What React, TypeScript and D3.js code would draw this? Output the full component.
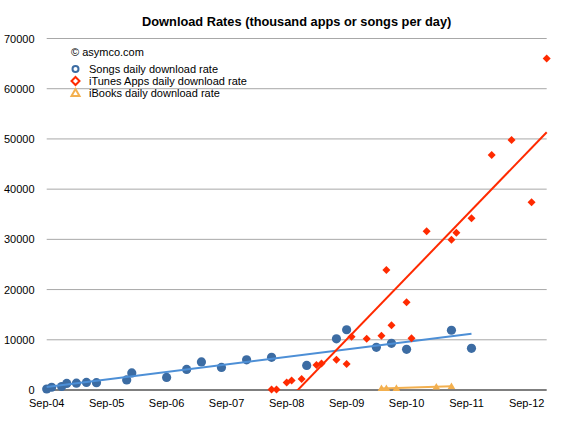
import React from "react";
import * as d3 from "d3";

const title = "Download Rates (thousand apps or songs per day)";
const yTicks = [0, 10000, 20000, 30000, 40000, 50000, 60000, 70000];
const xTickLabels = ["Sep-04", "Sep-05", "Sep-06", "Sep-07", "Sep-08", "Sep-09", "Sep-10", "Sep-11", "Sep-12"];
const xTickDates = ["2004-09", "2005-09", "2006-09", "2007-09", "2008-09", "2009-09", "2010-09", "2011-09", "2012-09"];

const songDates = ["2004-09", "2004-10", "2004-12", "2005-01", "2005-03", "2005-05", "2005-07", "2006-01", "2006-02", "2006-09", "2007-01", "2007-04", "2007-08", "2008-01", "2008-06", "2009-01", "2009-07", "2009-09", "2010-03", "2010-06", "2010-09", "2011-06", "2011-10"];
const songValues = [200, 550, 700, 1300, 1350, 1500, 1450, 2000, 3400, 2500, 4100, 5600, 4500, 6000, 6500, 4900, 10200, 12000, 8500, 9300, 8100, 11900, 8300];

const appDates = ["2008-06", "2008-07", "2008-09", "2008-10", "2008-12", "2009-03", "2009-04", "2009-07", "2009-09", "2009-10", "2010-01", "2010-04", "2010-05", "2010-06", "2010-09", "2010-10", "2011-01", "2011-06", "2011-07", "2011-10", "2012-02", "2012-06", "2012-10", "2013-01"];
const appValues = [100, 100, 1500, 1900, 2200, 5000, 5300, 6000, 5200, 10600, 10200, 10800, 23900, 12900, 17500, 10300, 31600, 29900, 31300, 34200, 46800, 49800, 37400, 66000];

const bookDates = ["2010-04", "2010-05", "2010-07", "2011-03", "2011-06"];
const bookValues = [350, 350, 380, 650, 750];

const legendLabels = ["Songs daily download rate", "iTunes Apps daily download rate", "iBooks daily download rate"];
const credit = "© asymco.com";

const parse = d3.timeParse("%Y-%m");

const W = 564, H = 437;
const left = 46.7, right = 546.7, top = 38.5, bottom = 390;

const x = d3.scaleTime().domain([parse("2004-09")!, parse("2013-01")!]).range([left, right]);
const y = d3.scaleLinear().domain([0, 70000]).range([bottom, top]);

function fit(dates: string[], vals: number[]) {
  const xs = dates.map((d) => +parse(d)!);
  const n = xs.length;
  const mx = d3.mean(xs)!, my = d3.mean(vals)!;
  let num = 0, den = 0;
  for (let i = 0; i < n; i++) {
    num += (xs[i] - mx) * (vals[i] - my);
    den += (xs[i] - mx) * (xs[i] - mx);
  }
  const b = num / den, a = my - b * mx;
  const x0 = d3.min(xs)!, x1 = d3.max(xs)!;
  return [
    [x0, a + b * x0],
    [x1, a + b * x1],
  ];
}

const line = d3
  .line<number[]>()
  .x((d) => x(new Date(d[0])))
  .y((d) => y(d[1]));

const FONT = "'Liberation Sans', Arial, Helvetica, sans-serif";
const BLUE = "#3c6ca3";
const BLUE_LINE = "#4d8fd6";
const RED = "#ff2a00";
const ORANGE = "#f3b04f";

function diamond(cx: number, cy: number, r: number) {
  return `M${cx},${cy - r}L${cx + r},${cy}L${cx},${cy + r}L${cx - r},${cy}Z`;
}
function triangle(cx: number, cy: number, r: number) {
  return `M${cx},${cy - r}L${cx + r},${cy + r * 0.75}L${cx - r},${cy + r * 0.75}Z`;
}

export default function App() {
  const songFit = fit(songDates, songValues);
  const appFit = fit(appDates, appValues);
  const bookFit = fit(bookDates, bookValues);
  return (
    <svg width={W} height={H} style={{ position: "absolute", left: 0, top: 0, background: "#fff" }} fontFamily={FONT}>
      <defs>
        <clipPath id="plot">
          <rect x={left - 10} y={top - 5} width={right - left + 20} height={bottom - top + 5} />
        </clipPath>
      </defs>
      <rect width={W} height={H} fill="#fff" />
      <text x={(left + right) / 2} y={25.5} textAnchor="middle" fontSize={12.8} fontWeight="bold" fill="#000">
        {title}
      </text>
      {yTicks.map((t) => (
        <g key={t}>
          <line
            x1={left}
            x2={right}
            y1={y(t)}
            y2={y(t)}
            stroke={t === 0 ? "#000" : "#a8a8a8"}
            strokeWidth={t === 0 ? 1.2 : 1}
          />
          <text x={34.5} y={y(t) + 4} textAnchor="end" fontSize={11} fill="#000">
            {t}
          </text>
        </g>
      ))}
      {xTickDates.map((d, i) => (
        <text key={d} x={x(parse(d)!)} y={406.5} textAnchor="middle" fontSize={11} fill="#000">
          {xTickLabels[i]}
        </text>
      ))}
      {songDates.map((d, i) => (
        <circle key={"s" + i} cx={x(parse(d)!)} cy={y(songValues[i])} r={4.6} fill={BLUE} />
      ))}
      <path d={line(songFit as any)!} fill="none" stroke={BLUE_LINE} strokeWidth={2} clipPath="url(#plot)" />
      {appDates.map((d, i) => (
        <path key={"a" + i} d={diamond(x(parse(d)!), y(appValues[i]), 4)} fill={RED} />
      ))}
      <path d={line(appFit as any)!} fill="none" stroke={RED} strokeWidth={2} clipPath="url(#plot)" />
      {bookDates.map((d, i) => (
        <path key={"b" + i} d={triangle(x(parse(d)!), y(bookValues[i]), 3.8)} fill={ORANGE} />
      ))}
      <path d={line(bookFit as any)!} fill="none" stroke={ORANGE} strokeWidth={2} clipPath="url(#plot)" />
      <text x={71} y={55.5} fontSize={11} fill="#000">
        {credit}
      </text>
      <circle cx={75.5} cy={69} r={3} fill="#fff" stroke={BLUE} strokeWidth={2} />
      <path d={diamond(75.5, 81, 4)} fill="#fff" stroke={RED} strokeWidth={2} />
      <path d={triangle(75.5, 93, 4)} fill="#fff" stroke={ORANGE} strokeWidth={2} />
      {legendLabels.map((l, i) => (
        <text key={l} x={89} y={73 + i * 12} fontSize={11} fill="#000">
          {l}
        </text>
      ))}
    </svg>
  );
}
